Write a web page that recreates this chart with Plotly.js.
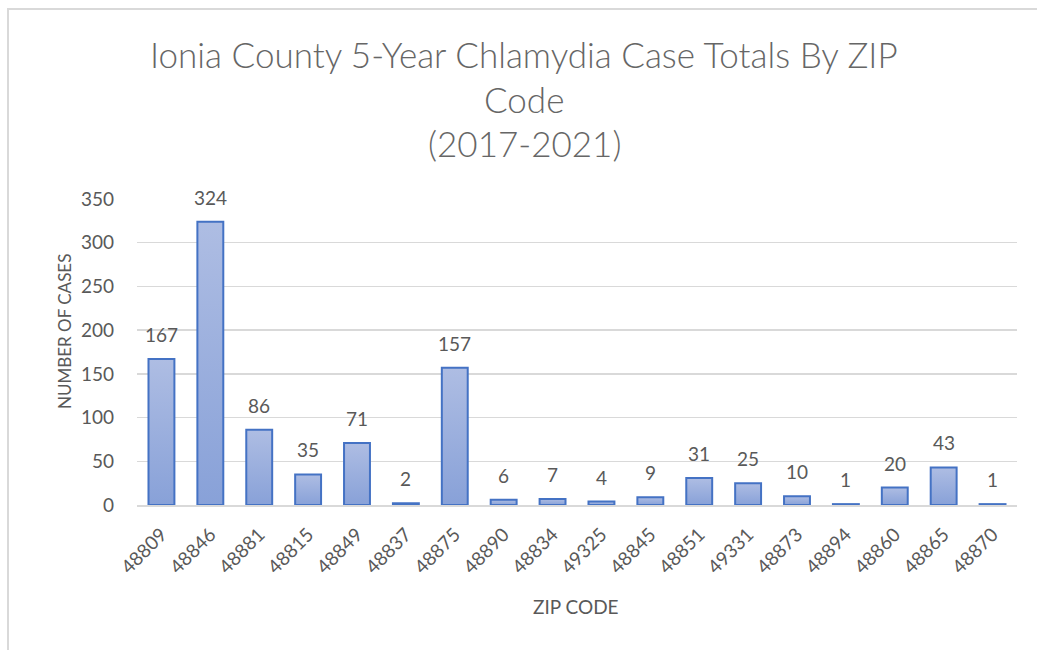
<!DOCTYPE html>
<html>
<head>
<meta charset="utf-8">
<script src="https://cdn.plot.ly/plotly-3.0.1.min.js"></script>
<style>
  html, body { margin: 0; padding: 0; background: #ffffff; }
  #wrap { position: relative; width: 1037px; height: 650px; overflow: hidden; }
  #chart { width: 1037px; height: 650px; }
  #frame { position: absolute; left: 7px; top: 8px; width: 1100px; height: 700px;
           border-left: 2px solid #d9d9d9; border-top: 2px solid #d9d9d9; pointer-events: none; }
</style>
</head>
<body>
<div id="wrap">
  <div id="chart"></div>
  <div id="frame"></div>
</div>
<script>
const zipCodes = ["48809","48846","48881","48815","48849","48837","48875","48890","48834","49325","48845","48851","49331","48873","48894","48860","48865","48870"];
const caseTotals = [167, 324, 86, 35, 71, 2, 157, 6, 7, 4, 9, 31, 25, 10, 1, 20, 43, 1];
const yTicks = [0, 50, 100, 150, 200, 250, 300, 350];
const titleLines = ["Ionia County 5-Year Chlamydia Case Totals By ZIP", "Code", "(2017-2021)"];

const FONT = "Lato, 'Open Sans', sans-serif";
const GRAY = "#595959";

// plot area in pixels: x 137..1017, y 199..505
const PL = 137, PW = 880, PT = 199, PH = 306;
const px2x = function (px) { return (px - PL) / PW; };
const py2y = function (py) { return (PT + PH - py) / PH; };

const trace = {
  type: "bar",
  x: zipCodes,
  y: caseTotals,
  marker: { color: "#9aaedd", line: { color: "#4472c4", width: 2 } },
  cliponaxis: false,
  hoverinfo: "x+y"
};

const annotations = [];
const titleY = [54, 99, 143];
titleLines.forEach(function (t, i) {
  annotations.push({ text: t, xref: "paper", yref: "paper", x: px2x(524), y: py2y(titleY[i]),
    xanchor: "center", yanchor: "middle", showarrow: false,
    font: { family: FONT, size: 35, color: "#666666", weight: 300 } });
});
// data labels: category axis positions given by category index
caseTotals.forEach(function (v, i) {
  annotations.push({ text: String(v), x: i, y: v, xref: "x", yref: "y",
    xanchor: "center", yanchor: "bottom", yshift: 11, showarrow: false,
    font: { family: FONT, size: 19, color: GRAY } });
});
annotations.push({ text: "NUMBER OF CASES", xref: "paper", yref: "paper",
  x: px2x(64), y: py2y(332), xanchor: "center", yanchor: "middle",
  textangle: -90, showarrow: false, font: { family: FONT, size: 17, color: GRAY } });
annotations.push({ text: "ZIP CODE", xref: "paper", yref: "paper",
  x: px2x(576), y: py2y(606), xanchor: "center", yanchor: "middle",
  showarrow: false, font: { family: FONT, size: 19, color: GRAY } });

const layout = {
  width: 1037,
  height: 650,
  margin: { l: 137, r: 20, t: 199, b: 145 },
  paper_bgcolor: "#ffffff",
  plot_bgcolor: "#ffffff",
  showlegend: false,
  bargap: 0.47,
  font: { family: FONT, color: GRAY },
  xaxis: {
    type: "category",
    categoryorder: "array",
    categoryarray: zipCodes,
    range: [-0.5, zipCodes.length - 0.5],
    tickangle: -45,
    tickfont: { family: FONT, size: 19, color: GRAY },
    showgrid: false,
    showline: true,
    linecolor: "#d9d9d9",
    linewidth: 2,
    ticks: "",
    ticklabelstandoff: 9,
    automargin: false
  },
  yaxis: {
    range: [0, 350],
    tickvals: yTicks,
    ticktext: yTicks.map(String),
    tickfont: { family: FONT, size: 19, color: GRAY },
    showgrid: true,
    gridcolor: "#d9d9d9",
    gridwidth: 1.5,
    zeroline: false,
    showline: false,
    ticks: "",
    ticklabelstandoff: 22,
    automargin: false
  },
  annotations: annotations
};

Plotly.newPlot("chart", [trace], layout, { displayModeBar: false, staticPlot: true }).then(function (gd) {
  const svg = gd.querySelector("svg.main-svg");
  const ns = "http://www.w3.org/2000/svg";
  let defs = svg.querySelector("defs");
  if (!defs) { defs = document.createElementNS(ns, "defs"); svg.insertBefore(defs, svg.firstChild); }
  const grad = document.createElementNS(ns, "linearGradient");
  grad.setAttribute("id", "barGrad");
  grad.setAttribute("x1", "0"); grad.setAttribute("y1", "0");
  grad.setAttribute("x2", "0"); grad.setAttribute("y2", "1");
  [["0%", "#aebde3"], ["100%", "#88a1d8"]].forEach(function (s) {
    const st = document.createElementNS(ns, "stop");
    st.setAttribute("offset", s[0]); st.setAttribute("stop-color", s[1]);
    grad.appendChild(st);
  });
  defs.appendChild(grad);
  gd.querySelectorAll(".bars .point path").forEach(function (p) {
    p.style.fill = "url(#barGrad)";
  });
});
</script>
</body>
</html>
